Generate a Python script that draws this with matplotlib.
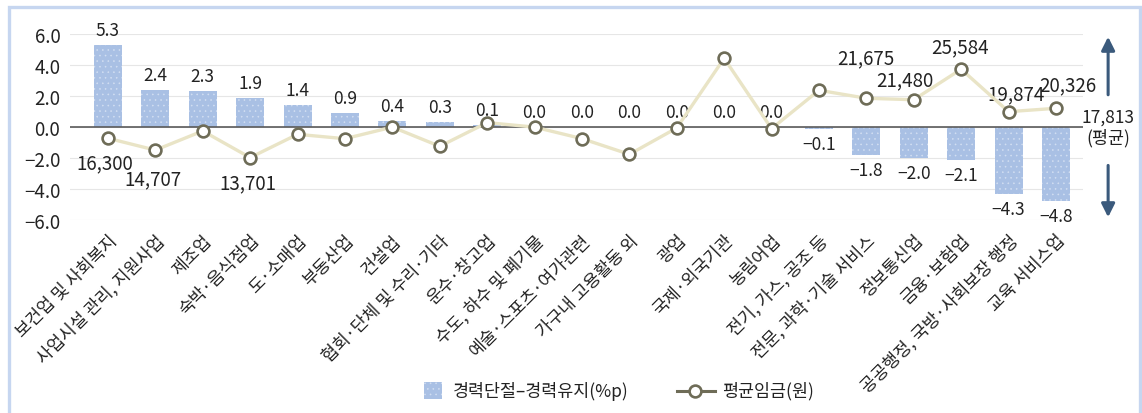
import matplotlib
matplotlib.use('Agg')
import matplotlib.pyplot as plt
from matplotlib.patches import Rectangle
from matplotlib.lines import Line2D

plt.rcParams['font.family'] = ['Noto Sans CJK KR', 'DejaVu Sans']
plt.rcParams['hatch.linewidth'] = 0.4

# 산업별 데이터
industries = ['보건업 및 사회복지', '사업시설 관리, 지원사업', '제조업', '숙박·음식점업', '도·소매업',
              '부동산업', '건설업', '협회·단체 및 수리·기타', '운수·창고업', '수도, 하수 및 폐기물',
              '예술·스포츠·여가관련', '가구내 고용활동 외', '광업', '국제·외국기관', '농림어업',
              '전기, 가스, 공조 등', '전문, 과학·기술 서비스', '정보통신업', '금융·보험업',
              '공공행정, 국방·사회보장 행정', '교육 서비스업']
gap = [5.3, 2.4, 2.3, 1.9, 1.4, 0.9, 0.4, 0.3, 0.1, 0.0, 0.0, 0.0, 0.0, 0.0, 0.0,
       -0.1, -1.8, -2.0, -2.1, -4.3, -4.8]
wage = [16300, 14707, 17280, 13701, 16830, 16240, 17800, 15220, 18400, 17800, 16250,
        14140, 17680, 27050, 17590, 22750, 21675, 21480, 25584, 19874, 20326]
wage_avg = 17813
wage_labeled = [0, 1, 3, 16, 17, 18, 19, 20]

# 임금 라벨 위치 (pixel offset)
wage_offset = {0: (-3, -25), 1: (-2, -29), 3: (-2, -25), 16: (-1, 40), 17: (-9, 20),
               18: (-1, 22), 19: (7, 18), 20: (12, 24)}

W, H = 1142, 414
fig = plt.figure(figsize=(W / 100, H / 100), dpi=100)


def px(x, y):
    return (x / W, 1 - y / H)


ax = fig.add_axes([70 / W, 1 - 221 / H, (1083 - 70) / W, (221 - 35) / H])
x = list(range(len(industries)))

ax.bar(x, gap, width=0.59, color='#a9c0e4', edgecolor='#d3dff2', linewidth=0, hatch='...', zorder=2)
ax.set_xlim(-0.8, 20.57)
ax.set_ylim(-6, 6)
ax.set_yticks([-6, -4, -2, 0, 2, 4, 6])
ax.set_yticklabels(['−6.0', '−4.0', '−2.0', '0.0', '2.0', '4.0', '6.0'])
ax.grid(axis='y', color='#e6e6e6', linewidth=0.8, zorder=0)
ax.set_axisbelow(True)
ax.axhline(0, color='#5a5a5a', linewidth=1.2, zorder=3)
for s in ax.spines.values():
    s.set_visible(False)
ax.tick_params(axis='y', length=0, labelsize=13.5, pad=7, colors='#222222')
ax.tick_params(axis='x', length=0, pad=8)
ax.set_xticks(x)
ax.set_xticklabels(industries, rotation=45, ha='right', va='top', rotation_mode='anchor',
                   fontsize=12.5, color='#222222')

for i, v in enumerate(gap):
    txt = ('%.1f' % v).replace('-', '−')
    if v < 0:
        ax.annotate(txt, (i, v), xytext=(0, -6), textcoords='offset pixels',
                    ha='center', va='top', fontsize=12.5, color='#222222')
    else:
        ax.annotate(txt, (i, v), xytext=(0, 6), textcoords='offset pixels',
                    ha='center', va='bottom', fontsize=12.5, color='#222222')

ax2 = ax.twinx()
ax2.set_ylim(wage_avg - 12500, wage_avg + 12500)
ax2.axis('off')
ax2.plot(x, wage, color='#e9e4c6', linewidth=2.4, marker='o', markersize=8.5,
         markerfacecolor='white', markeredgecolor='#6e6c57', markeredgewidth=1.9, zorder=5)
for i in wage_labeled:
    dx, dy = wage_offset[i]
    ax2.annotate('{:,}'.format(wage[i]), (i, wage[i]), xytext=(dx, dy), textcoords='offset pixels',
                 ha='center', va='center', fontsize=13.5, color='#222222')

# 평균 표시 화살표
ax.annotate('', xy=(21.1, 6.0), xytext=(21.1, 1.9), annotation_clip=False,
            arrowprops=dict(arrowstyle='-|>,head_width=0.4,head_length=0.8', color='#3b5a7c', lw=2.2))
ax.annotate('', xy=(21.1, -6.0), xytext=(21.1, -2.3), annotation_clip=False,
            arrowprops=dict(arrowstyle='-|>,head_width=0.4,head_length=0.8', color='#3b5a7c', lw=2.2))
ax.text(21.1, 0, '{:,}\n(평균)'.format(wage_avg), ha='center', va='center', fontsize=12.5,
        color='#222222', linespacing=1.2, clip_on=False)

# 범례
fig.add_artist(Rectangle(px(424, 400), 18 / W, 17 / H, transform=fig.transFigure,
                         facecolor='#a9c0e4', edgecolor='#d3dff2', linewidth=0, hatch='...'))
fig.text(*px(453, 391.5), '경력단절–경력유지(%p)', ha='left', va='center', fontsize=12.5, color='#222222')
fig.add_artist(Line2D([677 / W, 715 / W], [1 - 391.5 / H] * 2, transform=fig.transFigure,
                      color='#6e6c57', linewidth=2.2))
fig.add_artist(Line2D([695 / W], [1 - 391.5 / H], transform=fig.transFigure, marker='o',
                      markersize=8.5, markerfacecolor='white', markeredgecolor='#6e6c57',
                      markeredgewidth=1.9))
fig.text(*px(722, 391.5), '평균임금(원)', ha='left', va='center', fontsize=12.5, color='#222222')

# 테두리
fig.add_artist(Rectangle(px(9, 430), (1140 - 9) / W, (430 - 7.5) / H, transform=fig.transFigure,
                         facecolor='none', edgecolor='#c6d6f0', linewidth=2.4))

fig.savefig('out.png', dpi=100)
